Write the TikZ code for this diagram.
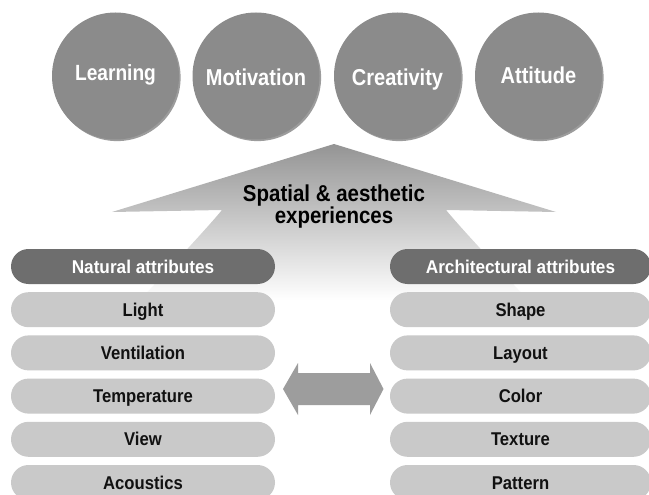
\documentclass[tikz,border=0pt]{standalone}
\usepackage{fontspec}
\setmainfont{Liberation Sans}
\newfontfamily\circfont[FakeStretch=0.87]{Liberation Sans}
\newfontfamily\titlefont[FakeStretch=0.89]{Liberation Sans}
\newfontfamily\itemfont[FakeStretch=0.90]{Liberation Sans}
\newfontfamily\headfont[FakeStretch=0.93]{Liberation Sans}
\usetikzlibrary{shadows}

\definecolor{circfill}{HTML}{8B8B8B}
\definecolor{headfill}{HTML}{6E6E6E}
\definecolor{itemfill}{HTML}{C9C9C9}
\definecolor{linkfill}{HTML}{9D9D9D}
\definecolor{arrowtop}{HTML}{949494}
\definecolor{itemtext}{HTML}{111111}

\tikzset{
  outcome/.style={circle, minimum size=127pt, inner sep=0pt, fill=circfill,
    general shadow={shadow xshift=1.6pt, shadow yshift=-1.6pt, fill=black!70, opacity=0.55}},
  outcometext/.style={anchor=base, text=white, font=\circfont\bfseries\fontsize{23}{23}\selectfont},
  attrbox/.style={rectangle, rounded corners=17.5pt, minimum width=264pt,
    minimum height=35pt, inner sep=0pt, text height=13.2pt, text depth=0pt},
  headbox/.style={attrbox, fill=headfill, text=white,
    font=\headfont\bfseries\fontsize{18.5}{18.5}\selectfont},
  itembox/.style={attrbox, fill=itemfill, text=itemtext,
    font=\itemfont\bfseries\fontsize{18.5}{18.5}\selectfont},
}

\begin{document}
\begin{tikzpicture}[x=1pt, y=-1pt]
\useasboundingbox (0,0) rectangle (649,495);
\clip (0,0) rectangle (649,495);
\fill[white] (0,0) rectangle (649,495);

% broad upward arrow fading into the space between the columns
\shade[top color=arrowtop, bottom color=white]
  (334,144) -- (556,212) -- (446,210)
  .. controls (456,222) and (472,240) .. (528,300)
  -- (140,300)
  .. controls (196,240) and (212,222) .. (222,210)
  -- (112,212) -- cycle;
\node[align=center, text=black, font=\titlefont\bfseries\fontsize{23}{21.6}\selectfont]
  (exp) at (334,206.5) {Spatial \& aesthetic\\experiences};

% outcomes
\node[outcome] (c1) at (115.5,76) {};
\node[outcome] (c2) at (256,76) {};
\node[outcome] (c3) at (397.5,76) {};
\node[outcome] (c4) at (538.5,76) {};
\node[outcometext, font=\circfont\bfseries\fontsize{22}{22}\selectfont] (t1) at (115.5,81) {Learning};
\node[outcometext] (t2) at (256,86) {Motivation};
\node[outcometext] (t3) at (397.5,86) {Creativity};
\node[outcometext] (t4) at (538.5,83.3) {Attitude};

% natural attributes
\node[headbox] (nat) at (143,266.5) {Natural attributes};
\node[itembox] (n1) at (143,309.7) {Light};
\node[itembox] (n2) at (143,352.9) {Ventilation};
\node[itembox] (n3) at (143,396.1) {Temperature};
\node[itembox] (n4) at (143,439.3) {View};
\node[itembox] (n5) at (143,482.5) {Acoustics};

% architectural attributes
\node[headbox, minimum width=261pt] (arc) at (520.5,266.5) {Architectural attributes};
\node[itembox, minimum width=261pt] (a1) at (520.5,309.7) {Shape};
\node[itembox, minimum width=261pt] (a2) at (520.5,352.9) {Layout};
\node[itembox, minimum width=261pt] (a3) at (520.5,396.1) {Color};
\node[itembox, minimum width=261pt] (a4) at (520.5,439.3) {Texture};
\node[itembox, minimum width=261pt] (a5) at (520.5,482.5) {Pattern};

% two-way link between the columns
\fill[linkfill] (283,389) -- (298,363) -- (298,373) -- (370,373) -- (370,363)
  -- (383.5,389) -- (370,415) -- (370,405) -- (298,405) -- (298,415) -- cycle;
\end{tikzpicture}
\end{document}
